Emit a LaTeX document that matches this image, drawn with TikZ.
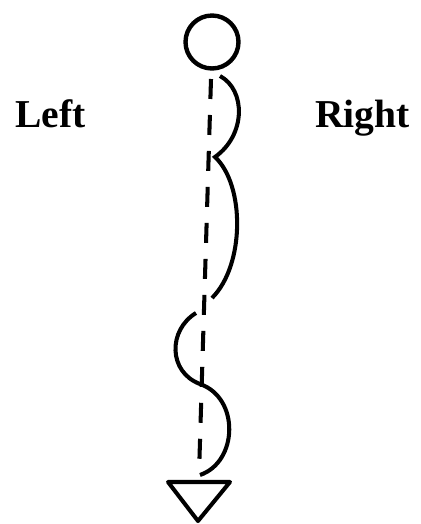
\documentclass[tikz,border=0pt]{standalone}
\usepackage{fontspec}
\setmainfont{Liberation Serif}

\begin{document}
\begin{tikzpicture}[
  x=0.02cm, y=-0.02cm,
  tratto/.style={draw=black, line width=2.3pt},
  tratteggio/.style={draw=black, line width=2.3pt, dash pattern=on 0.4cm off 0.32cm},
  etichetta/.style={inner sep=0pt, font=\fontsize{22.5}{26}\selectfont\bfseries},
  testa/.style={circle, draw=black, line width=2.5pt, minimum size=1.06cm, inner sep=0pt}
]
\useasboundingbox (0,0) rectangle (420,524);

%--------------------------------------------------------------
% Testa e asse tratteggiato
%--------------------------------------------------------------
\node[testa] (testa) at (212,42) {};
\coordinate (inizio) at (211,79);
\coordinate (fine) at (199,474);
\draw[tratteggio] (inizio) -- (fine);

%--------------------------------------------------------------
% Traccia ondulata
%--------------------------------------------------------------
\draw[tratto] (220,76) .. controls (246,90) and (246,135) .. (215,157)
              .. controls (245,185) and (245,265) .. (212,298);
\draw[tratto] (196,313) .. controls (168,330) and (168,372) .. (200,384)
              .. controls (240,398) and (238,462) .. (200,475);

%--------------------------------------------------------------
% Piede (triangolo)
%--------------------------------------------------------------
\draw[tratto, line join=round] (168,482) -- (230,482) -- (198,521) -- cycle;

%--------------------------------------------------------------
% Etichette
%--------------------------------------------------------------
\node[etichetta, anchor=base west] (sinistra) at (15,127) {Left};
\node[etichetta, anchor=base west] (destra) at (315,127) {Right};

\end{tikzpicture}
\end{document}
